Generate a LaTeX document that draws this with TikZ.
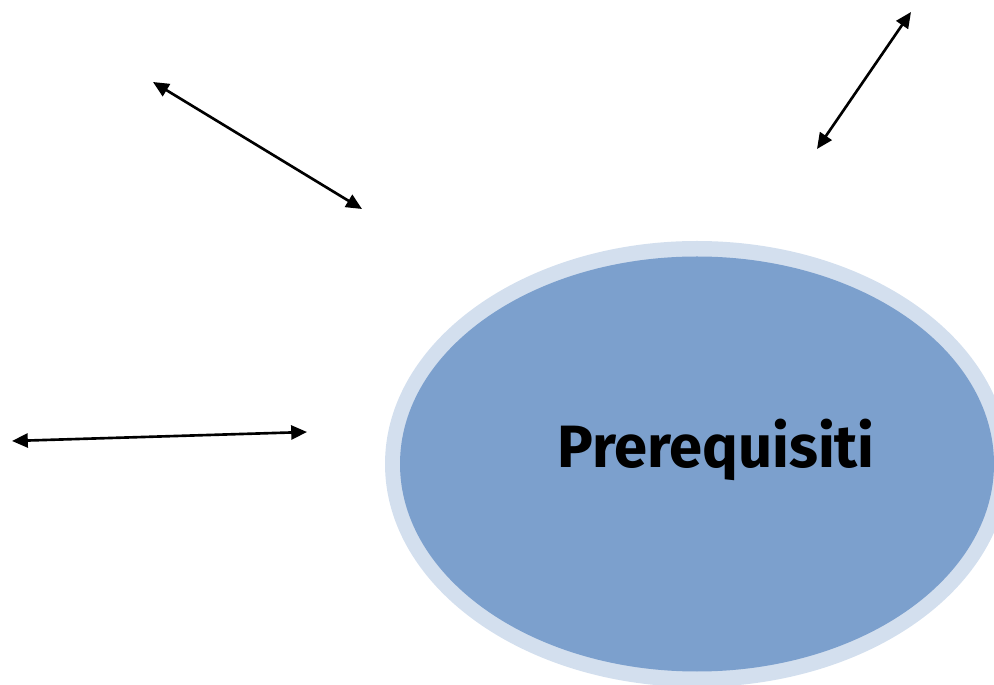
\documentclass[tikz,border=0pt]{standalone}
\usepackage{fontspec}
\setsansfont{Fira Sans}
\usetikzlibrary{arrows.meta}
\definecolor{ringblue}{RGB}{211,223,238}
\definecolor{coreblue}{RGB}{124,160,205}
\tikzset{
  link/.style={line width=1.5pt, {Triangle[length=9pt,width=8pt]}-{Triangle[length=9pt,width=8pt]}},
}

\begin{document}
\begin{tikzpicture}[x=0.02cm,y=-0.02cm]
\useasboundingbox (0,0) rectangle (994,685);
\begin{scope}
\clip (0,0) rectangle (994,685);
\fill[ringblue] (697,464) ellipse [x radius=312, y radius=223];
\fill[coreblue] (697,464) ellipse [x radius=297, y radius=207.5];
\node[font=\sffamily\bfseries\fontsize{34}{40}\selectfont] (prereq) at (716,450) {Prerequisiti};
\end{scope}
\coordinate (a1) at (153,82);
\coordinate (a2) at (362,209);
\coordinate (b1) at (911,12);
\coordinate (b2) at (817,149);
\coordinate (c1) at (12,441);
\coordinate (c2) at (307,432);
\draw[link] (a1) -- (a2);
\draw[link] (b1) -- (b2);
\draw[link] (c1) -- (c2);
\end{tikzpicture}
\end{document}
